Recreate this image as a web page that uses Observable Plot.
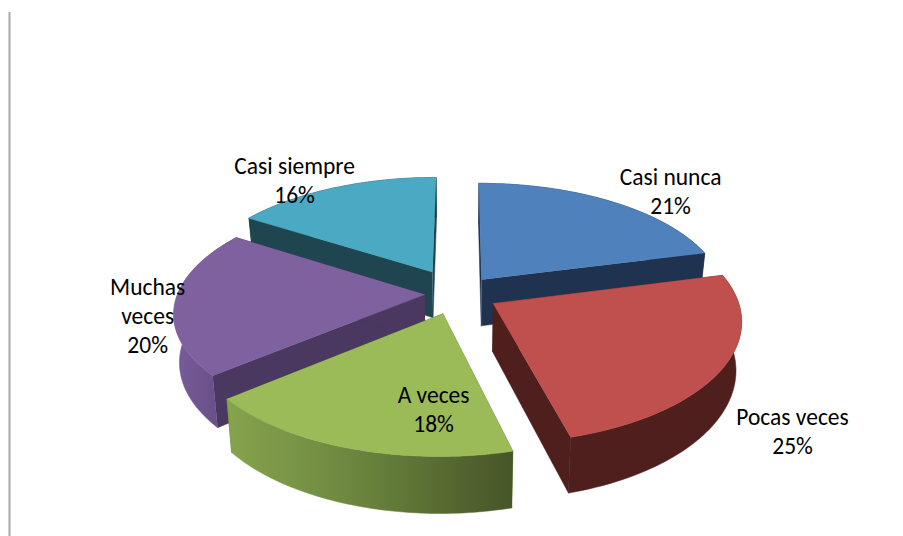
<!DOCTYPE html>
<html>
<head>
<meta charset="utf-8">
<script src="https://cdn.jsdelivr.net/npm/d3@7"></script>
<script src="https://cdn.jsdelivr.net/npm/@observablehq/plot@0.6"></script>
<style>html,body{margin:0;padding:0;background:#fff}svg{display:block}</style>
</head>
<body>
<div id="chart"></div>
<script>
const categories = ["Casi nunca", "Pocas veces", "A veces", "Muchas veces", "Casi siempre"];
const labelLines = ["Casi nunca", "Pocas veces", "A veces", "Muchas\nveces", "Casi siempre"];
const percents = [21, 25, 18, 20, 16];

const topColors = ["#4f81bd", "#c0504d", "#9bbb59", "#7f619f", "#4aa9c3"];
const wallColors = ["#1f3350", "#4f1f1e", "#5f7a34", "#4a3860", "#1f4650"];
const outerFills = ["#1f3350", "#4f1f1e", "url(#wall-green)", "url(#wall-purple)", "#1f4650"];
const explode = [0.155, 0.17, 0.18, 0.147, 0.22];
const nudgeU = [-0.007, -0.015, -0.015, 0, -0.012];
const bulge = [0, -0.012, 0, 0.012, 0];
const labelU = [0.995, 1.154, -0.096, -1.248, -0.799];
const labelV = [1.038, -1.013, -0.872, -0.178, 1.168];
const drawOrder = [4, 0, 3, 2, 1];

const view = {cx: 460, cy: 293, A: 244, B: 114.7, H: 47, p: 0.15, shrink: 0.98};
const project = (u, v, down = false) => {
  const w = 1 + view.p * v;
  const k = down ? view.shrink : 1;
  return {
    x: view.cx + view.A * u / w * k,
    y: view.cy - view.B * v / w + (down ? view.H / w : 0)
  };
};

const total = d3.sum(percents);
const cum = d3.cumsum(percents);
const angles = percents.map((d, i) => {
  const a1 = 2 * Math.PI * cum[i] / total;
  return {a0: a1 - 2 * Math.PI * d / total, a1};
});

const faces = [];
for (const i of drawOrder) {
  const {a0, a1} = angles[i];
  const mid = (a0 + a1) / 2;
  const ou = explode[i] * Math.sin(mid) + nudgeU[i], ov = explode[i] * Math.cos(mid);
  const rim = d3.range(0, 61).map(k => {
    const t = k / 60;
    const a = a0 + (a1 - a0) * t;
    const r = 1 + bulge[i] * Math.sin(Math.PI * t);
    return [ou + r * Math.sin(a), ov + r * Math.cos(a)];
  });
  const first = rim[0], last = rim[rim.length - 1];
  const wall = (a, b) => [project(...a), project(...b), project(...b, true), project(...a, true)];
  faces.push({fill: wallColors[i], pts: wall([ou, ov], first)});
  faces.push({fill: wallColors[i], pts: wall([ou, ov], last)});
  faces.push({
    fill: outerFills[i],
    pts: [...rim.map(p => project(...p)), ...rim.slice().reverse().map(p => project(...p, true))]
  });
  faces.push({fill: topColors[i], pts: [project(ou, ov), ...rim.map(p => project(...p))]});
}

const labels = categories.map((c, i) => ({
  text: labelLines[i] + "\n" + percents[i] + "%",
  ...project(labelU[i], labelV[i])
}));

const chart = Plot.plot({
  width: 903,
  height: 536,
  margin: 0,
  x: {domain: [0, 903], range: [0, 903], axis: null},
  y: {domain: [0, 536], range: [0, 536], axis: null},
  style: {background: "#fff"},
  marks: [
    Plot.ruleX([9], {y1: 12, y2: 536, stroke: "#a8a8a8", strokeWidth: 2}),
    ...faces.map(f => Plot.line(f.pts, {x: "x", y: "y", fill: f.fill, stroke: f.fill, strokeWidth: 0.5})),
    Plot.text(labels, {
      x: "x", y: "y", text: "text",
      fontFamily: "Carlito, Lato, sans-serif",
      fontSize: 23.5, lineHeight: 1.23, fill: "#000"
    })
  ]
});

const defs = d3.select(chart).insert("defs", ":first-child");
const gradient = (id, stops) => {
  const g = defs.append("linearGradient").attr("id", id)
    .attr("x1", 0).attr("x2", 1).attr("y1", 0).attr("y2", 0);
  stops.forEach(([o, c]) => g.append("stop").attr("offset", o).attr("stop-color", c));
};
gradient("wall-green", [[0, "#86a34e"], [0.4, "#6f8a40"], [1, "#465527"]]);
gradient("wall-purple", [[0, "#7a5d9a"], [0.6, "#6a5088"], [1, "#5a4474"]]);

document.getElementById("chart").appendChild(chart);
</script>
</body>
</html>
